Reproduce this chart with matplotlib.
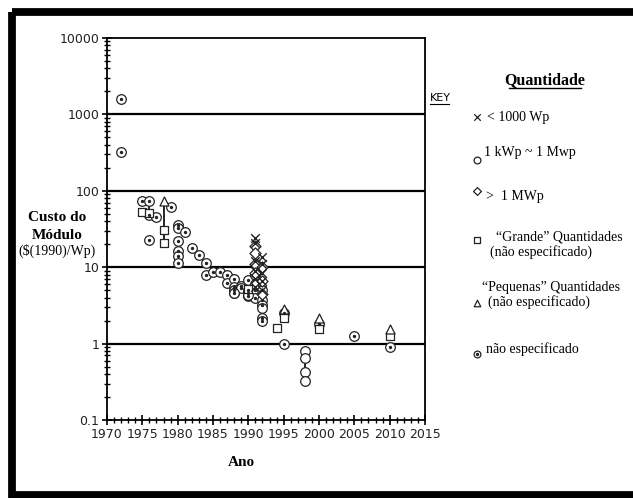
import numpy as np
import matplotlib.pyplot as plt
from matplotlib.patches import Rectangle

# ---- data ----
# "nao especificado" (dotted circles)
dot_year = [1972, 1972, 1975, 1976, 1976, 1976, 1977, 1979, 1980, 1980, 1980, 1980, 1980, 1980,
            1981, 1982, 1983, 1984, 1984, 1985, 1986, 1987, 1987, 1988, 1988, 1988, 1988,
            1989, 1989, 1990, 1990, 1990, 1990, 1991, 1991, 1991, 1992, 1992, 1992, 1992, 1992,
            1995, 1995, 2000, 2005, 2010]
dot_cost = [1600, 320, 74, 73, 48, 22.6, 45, 62, 35.7, 33, 21.7, 16.1, 14.1, 11.3,
            28.5, 17.6, 14.3, 11.2, 8.0, 8.6, 8.6, 7.8, 6.2, 7.0, 5.5, 5.0, 4.6,
            5.6, 5.3, 6.9, 5.0, 4.6, 4.2, 8.0, 5.0, 4.0, 5.0, 3.76, 3.24, 2.17, 1.96,
            1.0, 2.5, 1.8, 1.25, 0.9]

# "1 kWp ~ 1 MWp" (plain circles)
circ_year = [1988, 1990, 1991, 1992, 1998, 1998, 1998, 1998]
circ_cost = [4.6, 4.3, 6.0, 2.93, 0.79, 0.65, 0.43, 0.32]

# "< 1000 Wp"
x_year = [1991, 1991, 1991, 1991, 1991, 1991, 1992, 1992, 1992, 1992, 1992]
x_cost = [24, 20.7, 12, 9, 7, 5.5, 13.8, 11, 8.5, 6.5, 5.0]

# "> 1 MWp"
dia_year = [1991, 1991, 1991, 1991, 1992, 1992, 1992]
dia_cost = [18.7, 15.3, 11, 8.5, 10, 6.5, 4.5]

# "Grande" quantidades
sq_year = [1975, 1976, 1978, 1978, 1990, 1994, 1995, 2000, 2010]
sq_cost = [52, 51, 31, 20.7, 5.2, 1.6, 2.17, 1.57, 1.25]

# "Pequenas" quantidades
tri_year = [1978, 1995, 2000, 2010]
tri_cost = [73, 2.84, 2.17, 1.57]

# vertical range bars
bar_year = [1976, 1978, 1980, 1988, 1998]
bar_low = [48, 20.7, 11.3, 4.6, 0.32]
bar_high = [73, 73, 16.1, 5.5, 0.79]

year_ticks = list(range(1970, 2016, 5))
cost_ticks = [0.1, 1, 10, 100, 1000, 10000]
cost_labels = ["0.1", "1", "10", "100", "1000", "10000"]

W, H = 633, 498
fig = plt.figure(figsize=(W / 100, H / 100), dpi=100)
fig.patch.set_facecolor("white")

ax = fig.add_axes([107 / W, 1 - 420 / H, (425 - 107) / W, (420 - 38) / H])
ax.set_yscale("log")
ax.set_xlim(1970, 2015)
ax.set_ylim(0.1, 10000)

for v in [1, 10, 100, 1000]:
    ax.axhline(v, color="black", lw=1.6, zorder=1)

ax.vlines(bar_year, bar_low, bar_high, color="black", lw=1.2, zorder=2)

ms = 48
ax.scatter(dot_year, dot_cost, s=ms, marker="o", facecolor="white", edgecolor="#222222", lw=0.9, zorder=3)
ax.scatter(dot_year, dot_cost, s=2, marker="o", color="#222222", zorder=4)
ax.scatter(circ_year, circ_cost, s=ms, marker="o", facecolor="white", edgecolor="#222222", lw=0.9, zorder=3)
ax.scatter(sq_year, sq_cost, s=38, marker="s", facecolor="white", edgecolor="#222222", lw=0.9, zorder=3)
ax.scatter(tri_year, tri_cost, s=42, marker="^", facecolor="white", edgecolor="#222222", lw=0.9, zorder=3)
ax.scatter(dia_year, dia_cost, s=32, marker="D", facecolor="white", edgecolor="#222222", lw=0.9, zorder=4)
ax.scatter(x_year, x_cost, s=38, marker="x", color="#222222", lw=1.0, zorder=5)

for s in ax.spines.values():
    s.set_linewidth(1.3)

ax.set_xticks(year_ticks)
ax.set_xticks(range(1970, 2016), minor=True)
ax.set_yticks(cost_ticks)
ax.set_yticklabels(cost_labels)
ax.tick_params(axis="both", which="major", direction="inout", length=7, width=1.2,
               labelsize=9, pad=2)
ax.tick_params(axis="both", which="minor", direction="inout", length=4, width=1.0)
ax.tick_params(axis="y", which="both", right=False)
ax.tick_params(axis="x", which="both", top=False)
for lab in ax.get_xticklabels() + ax.get_yticklabels():
    lab.set_fontfamily("DejaVu Sans")
    lab.set_color("#222222")

# overlay in pixel coordinates for labels, key and frame
ov = fig.add_axes([0, 0, 1, 1], facecolor="none")
ov.set_xlim(0, W)
ov.set_ylim(H, 0)
ov.axis("off")

serif = "Liberation Serif"
ov.text(57, 226, "Custo do\nMódulo", ha="center", va="center", fontsize=11,
        fontweight="bold", family=serif, linespacing=1.5)
ov.text(57, 251, "($(1990)/Wp)", ha="center", va="center", fontsize=10, family=serif)
ov.text(241, 462, "Ano", ha="center", va="center", fontsize=11, fontweight="bold", family=serif)

ov.text(545, 80, "Quantidade", ha="center", va="center", fontsize=11.5,
        fontweight="bold", family=serif)
ov.plot([509, 581], [88, 88], color="black", lw=1.0)
ov.text(430, 98, "KEY", ha="left", va="center", fontsize=8, family="DejaVu Sans")
ov.plot([430, 449], [104, 104], color="black", lw=0.8)

fs = 10
lk = dict(facecolor="white", edgecolor="#222222", lw=0.9, clip_on=False)
ov.scatter([477], [117], s=22, marker="x", color="#222222", lw=0.9)
ov.text(487, 117, "< 1000 Wp", va="center", fontsize=fs, family=serif)
ov.scatter([477], [160], s=24, marker="o", **lk)
ov.text(484, 152, "1 kWp ~ 1 Mwp", va="center", fontsize=fs, family=serif)
ov.scatter([477], [191], s=16, marker="D", **lk)
ov.text(486, 196, ">  1 MWp", va="center", fontsize=fs, family=serif)
ov.scatter([477], [240], s=22, marker="s", **lk)
ov.text(496, 237, "\u201cGrande\u201d Quantidades", va="center", fontsize=fs, family=serif)
ov.text(490, 252, "(não especificado)", va="center", fontsize=fs, family=serif)
ov.scatter([477], [303], s=22, marker="^", **lk)
ov.text(482, 287, "\u201cPequenas\u201d Quantidades", va="center", fontsize=fs, family=serif)
ov.text(488, 302, "(não especificado)", va="center", fontsize=fs, family=serif)
ov.scatter([477], [354], s=24, marker="o", **lk)
ov.scatter([477], [354], s=2, marker="o", color="#222222")
ov.text(486, 349, "não especificado", va="center", fontsize=fs, family=serif)

# frame: visible on left, top and bottom only (right edge runs off the image)
ov.add_patch(Rectangle((11.5, 11.5), W + 20, 483, fill=False, edgecolor="black",
                       lw=5.6, clip_on=False))

fig.savefig("out.png", dpi=100)
